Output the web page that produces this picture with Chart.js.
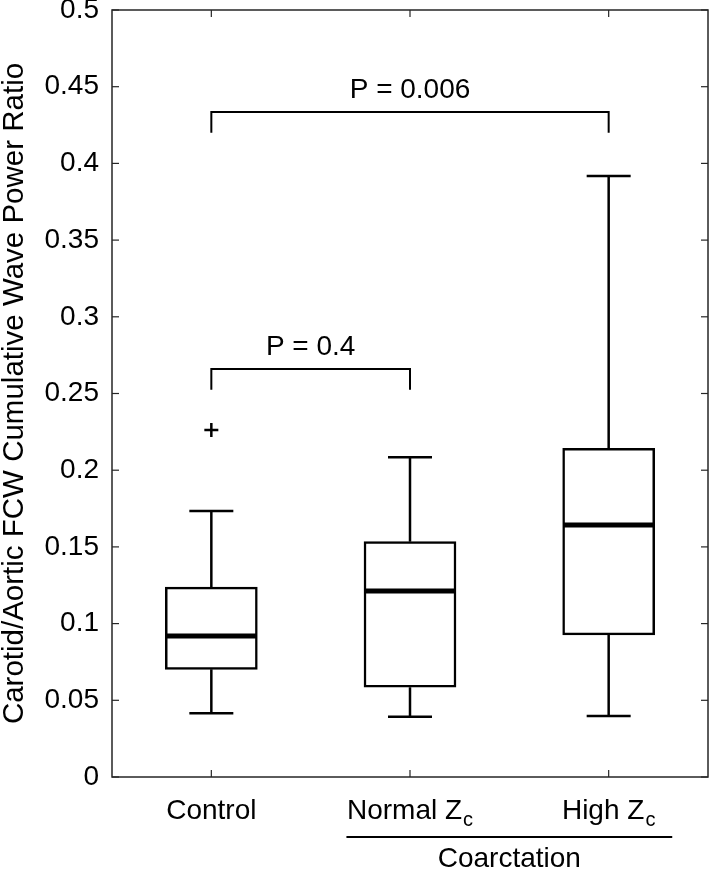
<!DOCTYPE html>
<html>
<head>
<meta charset="utf-8">
<script src="https://cdn.jsdelivr.net/npm/chart.js@4.4.0/dist/chart.umd.min.js"></script>
<style>
  body { margin: 0; background: #fff; overflow: hidden; }
  canvas { display: block; }
</style>
</head>
<body>
<canvas id="chart" width="709" height="870"></canvas>
<script>
// groups on the x axis (main text + subscript)
var categories = ['Control', 'Normal Z', 'High Z'];
var subscripts = ['', 'c', 'c'];

// box plot statistics
var whiskerLow = [0.0415, 0.0393, 0.0398];
var q1 = [0.0702, 0.0585, 0.0926];
var median = [0.0919, 0.1213, 0.1643];
var q3 = [0.1238, 0.1534, 0.2143];
var whiskerHigh = [0.1734, 0.2084, 0.3918];
var outliers = [0.2262, null, null];

var yTickLabels = ['0', '0.05', '0.1', '0.15', '0.2', '0.25', '0.3', '0.35', '0.4', '0.45', '0.5'];

// significance brackets
var bracketFrom = [0, 0];
var bracketTo = [1, 2];
var bracketLevel = [0.266, 0.4335];
var bracketLabels = ['P = 0.4', 'P = 0.006'];

// grouping line under the x labels
var groupLabel = 'Coarctation';
var groupFrom = 1;
var groupTo = 2;

var FONT = '"Liberation Sans", Arial, Helvetica, sans-serif';

function seg(ctx, x1, y1, x2, y2) {
  ctx.beginPath();
  ctx.moveTo(x1, y1);
  ctx.lineTo(x2, y2);
  ctx.stroke();
}

var boxExtras = {
  id: 'boxExtras',
  afterDatasetsDraw: function(chart) {
    var ctx = chart.ctx;
    var x = chart.scales.x;
    var y = chart.scales.y;
    ctx.save();
    ctx.strokeStyle = '#000';
    ctx.lineCap = 'butt';

    // whiskers, caps and medians
    categories.forEach(function(c, i) {
      var cx = x.getPixelForValue(i);
      ctx.lineWidth = 2.5;
      seg(ctx, cx, y.getPixelForValue(q3[i]), cx, y.getPixelForValue(whiskerHigh[i]));
      seg(ctx, cx, y.getPixelForValue(q1[i]), cx, y.getPixelForValue(whiskerLow[i]));
      seg(ctx, cx - 22, y.getPixelForValue(whiskerHigh[i]), cx + 22, y.getPixelForValue(whiskerHigh[i]));
      seg(ctx, cx - 22, y.getPixelForValue(whiskerLow[i]), cx + 22, y.getPixelForValue(whiskerLow[i]));
      ctx.lineWidth = 5;
      seg(ctx, cx - 45, y.getPixelForValue(median[i]), cx + 45, y.getPixelForValue(median[i]));
    });

    // brackets with p values
    ctx.lineWidth = 2;
    ctx.fillStyle = '#000';
    ctx.font = '28px ' + FONT;
    ctx.textAlign = 'center';
    ctx.textBaseline = 'alphabetic';
    bracketLabels.forEach(function(lbl, k) {
      var xa = x.getPixelForValue(bracketFrom[k]);
      var xb = x.getPixelForValue(bracketTo[k]);
      var yb = y.getPixelForValue(bracketLevel[k]);
      var legs = y.getPixelForValue(bracketLevel[k] - 0.0135);
      ctx.beginPath();
      ctx.moveTo(xa, legs);
      ctx.lineTo(xa, yb);
      ctx.lineTo(xb, yb);
      ctx.lineTo(xb, legs);
      ctx.stroke();
      ctx.fillText(lbl, (xa + xb) / 2, yb - 14);
    });
    ctx.restore();
  },
  afterDraw: function(chart) {
    var ctx = chart.ctx;
    var x = chart.scales.x;
    var y = chart.scales.y;
    var a = chart.chartArea;
    ctx.save();

    // frame and inward ticks on all four sides
    ctx.strokeStyle = '#262626';
    ctx.lineWidth = 1.5;
    ctx.strokeRect(a.left, a.top, a.right - a.left, a.bottom - a.top);
    ctx.lineWidth = 1.2;
    y.ticks.forEach(function(t) {
      var py = y.getPixelForValue(t.value);
      seg(ctx, a.left, py, a.left + 7, py);
      seg(ctx, a.right, py, a.right - 7, py);
    });
    categories.forEach(function(c, i) {
      var px = x.getPixelForValue(i);
      seg(ctx, px, a.bottom, px, a.bottom - 7);
      seg(ctx, px, a.top, px, a.top + 7);
    });

    // x labels with subscripts
    ctx.fillStyle = '#000';
    ctx.textBaseline = 'alphabetic';
    ctx.textAlign = 'left';
    var labelY = a.bottom + 42;
    categories.forEach(function(c, i) {
      ctx.font = '28px ' + FONT;
      var w1 = ctx.measureText(c).width;
      ctx.font = '20px ' + FONT;
      var w2 = subscripts[i] ? ctx.measureText(subscripts[i]).width + 1 : 0;
      var start = x.getPixelForValue(i) - (w1 + w2) / 2;
      ctx.font = '28px ' + FONT;
      ctx.fillText(c, start, labelY);
      if (subscripts[i]) {
        ctx.font = '20px ' + FONT;
        ctx.fillText(subscripts[i], start + w1 + 1, labelY + 7);
      }
    });

    // group line and label
    var step = x.getPixelForValue(1) - x.getPixelForValue(0);
    var gx1 = x.getPixelForValue(groupFrom) - step * 0.32;
    var gx2 = x.getPixelForValue(groupTo) + step * 0.32;
    ctx.strokeStyle = '#000';
    ctx.lineWidth = 2;
    seg(ctx, gx1, a.bottom + 60, gx2, a.bottom + 60);
    ctx.font = '28px ' + FONT;
    ctx.textAlign = 'center';
    ctx.fillText(groupLabel, (gx1 + gx2) / 2, a.bottom + 90);
    ctx.restore();
  }
};

var boxes = categories.map(function(c, i) { return [q1[i], q3[i]]; });

var ctx = document.getElementById('chart').getContext('2d');
var myChart = new Chart(ctx, {
  type: 'bar',
  data: {
    labels: categories,
    datasets: [{
      type: 'bar',
      data: boxes,
      backgroundColor: '#fff',
      borderColor: '#000',
      borderWidth: 2.5,
      borderSkipped: false,
      barThickness: 92,
      order: 2
    }, {
      type: 'line',
      data: outliers,
      showLine: false,
      pointStyle: 'cross',
      pointRadius: 7,
      pointBorderWidth: 2.5,
      borderColor: '#000',
      backgroundColor: '#000',
      order: 1
    }]
  },
  options: {
    responsive: false,
    animation: false,
    layout: { autoPadding: false, padding: { top: 10, right: 1, bottom: 93, left: 0 } },
    plugins: {
      legend: { display: false },
      tooltip: { enabled: false }
    },
    scales: {
      x: {
        display: false
      },
      y: {
        min: 0,
        max: 0.5,
        grid: { display: true, drawOnChartArea: false, drawTicks: true, tickLength: 13, color: 'rgba(0,0,0,0)' },
        border: { display: false },
        ticks: {
          stepSize: 0.05,
          padding: 0,
          color: '#000',
          font: { family: FONT, size: 28, lineHeight: 0.7 },
          callback: function(v, i) { return yTickLabels[i]; }
        },
        title: {
          display: true,
          text: 'Carotid/Aortic FCW Cumulative Wave Power Ratio',
          color: '#000',
          padding: 0,
          font: { family: FONT, size: 29.5, lineHeight: 1 }
        },
        afterFit: function(scale) { scale.width = 112; }
      }
    }
  },
  plugins: [boxExtras]
});
</script>
</body>
</html>
